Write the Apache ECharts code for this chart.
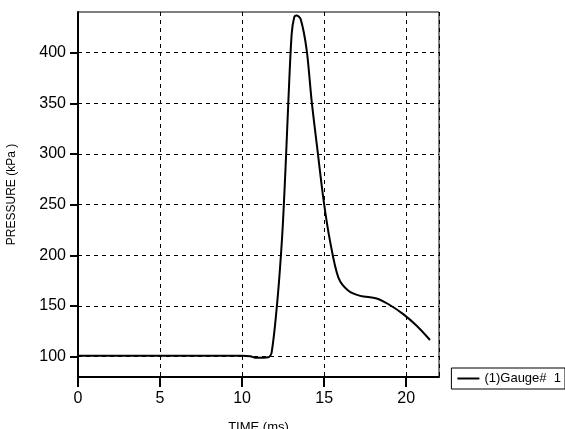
<!DOCTYPE html>
<html style="height: 100%">
<head><meta charset="utf-8"></head>
<body style="height: 100%; margin: 0; background:#fff">
<div id="container" style="width:565px;height:429px"></div>
<script src="https://cdn.jsdelivr.net/npm/echarts@6/dist/echarts.min.js"></script>
<script>
// time (ms) and pressure (kPa)
var timeMs = [0, 2, 4, 6, 8, 10, 10.5, 10.8, 11.6, 11.8, 12.15, 12.45, 12.65, 12.82, 13.02, 13.18, 13.32, 13.57, 13.94, 14.24, 14.6, 14.97, 15.36, 15.87, 16.48, 17.2, 18.2, 18.9, 19.82, 20.64, 21.45];
var pressure = [101, 101, 101, 101, 101, 101, 100.5, 99, 99.5, 104, 155, 221, 287, 352, 418, 435, 436.5, 433, 402, 352, 303, 254, 214, 178, 165, 160, 157.5, 152, 142, 130.5, 116.5];
var yTicks = [100, 150, 200, 250, 300, 350, 400];

var dom = document.getElementById("container");
var myChart = echarts.init(dom);
var data = timeMs.map(function (t, i) { return [t, pressure[i]]; });
var lbl = { color: '#000', fontFamily: 'Arial, Liberation Sans', fontSize: 16 };

myChart.setOption({
    animation: false,
    grid: { left: 78, top: 12, right: 126, bottom: 52, show: true, borderColor: '#000', borderWidth: 1,
        containLabel: false, outerBoundsMode: 'none' },
    legend: {
        right: 0, bottom: 40, orient: 'vertical',
        backgroundColor: '#fff', borderColor: '#000', borderWidth: 1,
        padding: [4, 4, 4, 6], itemWidth: 22, itemHeight: 2, icon: 'rect',
        textStyle: { color: '#000', fontFamily: 'Arial, Liberation Sans', fontSize: 13 },
        data: ['(1)Gauge#  1']
    },
    xAxis: {
        type: 'value', min: 0, max: 22, interval: 5,
        name: 'TIME (ms)', nameLocation: 'middle', nameGap: 44,
        nameTextStyle: { color: '#000', fontSize: 13, fontFamily: 'Arial, Liberation Sans' },
        axisLine: { onZero: false, lineStyle: { color: '#000', width: 2 } },
        axisTick: { inside: false, length: 10, lineStyle: { color: '#000', width: 2 } },
        axisLabel: Object.assign({ showMaxLabel: false, margin: 14 }, lbl),
        splitLine: { show: true, lineStyle: { color: '#000', type: [4, 4], width: 1 } }
    },
    yAxis: {
        type: 'value', min: 80, max: 440,
        name: 'PRESSURE (kPa )', nameLocation: 'middle', nameGap: 60,
        nameTextStyle: { color: '#000', fontSize: 12, fontFamily: 'Arial, Liberation Sans' },
        axisLine: { lineStyle: { color: '#000', width: 2 } },
        axisTick: { customValues: yTicks, length: 8, lineStyle: { color: '#000', width: 2 } },
        axisLabel: Object.assign({ customValues: yTicks, margin: 12 }, lbl),
        splitLine: { show: true, lineStyle: { color: '#000', type: [4, 4], width: 1 } }
    },
    series: [{
        name: '(1)Gauge#  1', type: 'line', data: data, smooth: 0.3,
        showSymbol: false, lineStyle: { color: '#000', width: 2 }, itemStyle: { color: '#000' }
    }]
});
</script>
</body>
</html>
